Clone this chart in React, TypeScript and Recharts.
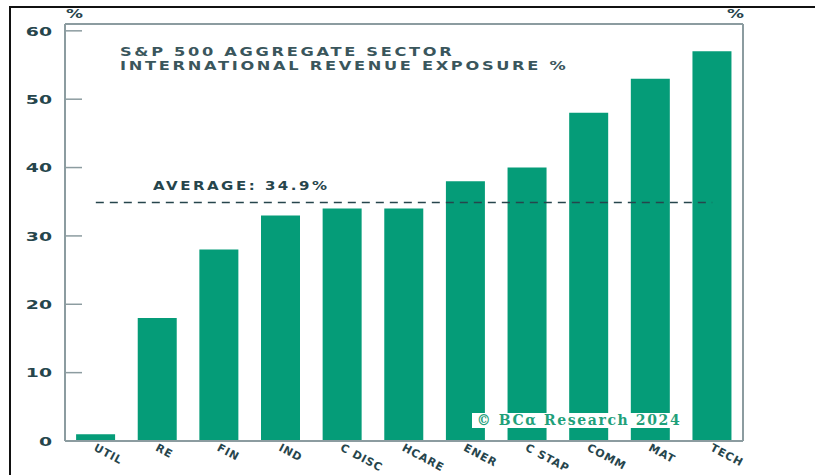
import { BarChart, Bar, XAxis, YAxis, ReferenceLine } from "recharts";

const SECTORS = ["UTIL", "RE", "FIN", "IND", "C DISC", "HCARE", "ENER", "C STAP", "COMM", "MAT", "TECH"];
const EXPOSURE = [1, 18, 28, 33, 34, 34, 38, 40, 48, 53, 57];
const Y_TICKS = [0, 10, 20, 30, 40, 50, 60];
const AVERAGE = 34.9;

const AXIS = "#8c9ca0";
const INK = "#26454c";
const GREEN = "#059c78";
const FONT = "'DejaVu Sans', sans-serif";

const data = SECTORS.map((s, i) => ({ sector: s, value: EXPOSURE[i] }));

function SectorTick({ x, y, payload }: any) {
  const tx = x + 1;
  const ty = y - 6;
  return (
    <text
      x={tx}
      y={ty}
      transform={`rotate(28 ${tx} ${ty})`}
      textAnchor="start"
      dominantBaseline="hanging"
      fill={INK}
      fontSize={11}
      fontWeight={700}
      fontFamily={FONT}
      letterSpacing={0.8}
    >
      {payload.value}
    </text>
  );
}

function ValueTick({ x, y, payload, textAnchor }: any) {
  return (
    <g transform={`translate(${x} ${y}) scale(1.45 1)`}>
      <text
        x={0}
        y={0}
        dy="0.36em"
        textAnchor={textAnchor}
        fill={INK}
        fontSize={13}
        fontWeight={700}
        fontFamily={FONT}
      >
        {payload.value}
      </text>
    </g>
  );
}

const wide = (scale: number): any => ({ transform: `scaleX(${scale})`, transformOrigin: "left top", whiteSpace: "nowrap" });

export default function App() {
  return (
    <div style={{ position: "absolute", left: 0, top: 0, width: 815, height: 475, background: "#fff", fontFamily: FONT, overflow: "hidden" }}>
      <div style={{ position: "absolute", left: 9, top: 6, right: 0, bottom: 0, borderTop: "2px solid #111", borderLeft: "2px solid #111" }} />
      <BarChart
        width={815}
        height={475}
        data={data}
        margin={{ top: 24, right: 0, bottom: 0, left: 0 }}
        barCategoryGap="18%"
      >
        <XAxis
          dataKey="sector"
          height={34}
          axisLine={{ stroke: AXIS, strokeWidth: 2 }}
          tickLine={false}
          tick={<SectorTick />}
          interval={0}
        />
        <YAxis
          yAxisId="left"
          orientation="left"
          width={65}
          domain={[0, 61]}
          ticks={Y_TICKS}
          axisLine={{ stroke: AXIS, strokeWidth: 2 }}
          tickLine={{ stroke: AXIS, strokeWidth: 1.5 }}
          tickSize={-17}
          tickMargin={30}
          tick={<ValueTick />}
        />
        <YAxis
          yAxisId="right"
          orientation="right"
          width={72}
          domain={[0, 61]}
          ticks={Y_TICKS}
          axisLine={{ stroke: AXIS, strokeWidth: 2 }}
          tickLine={{ stroke: AXIS, strokeWidth: 1.5 }}
          tickSize={-17}
          tickMargin={28}
          tick={<ValueTick />}
        />
        <ReferenceLine yAxisId="left" y={61} stroke={AXIS} strokeWidth={2} />
        <Bar yAxisId="left" dataKey="value" fill={GREEN} isAnimationActive={false} />
        <ReferenceLine
          yAxisId="left"
          segment={[
            { x: "UTIL", y: AVERAGE },
            { x: "TECH", y: AVERAGE },
          ]}
          stroke={INK}
          strokeWidth={1.5}
          strokeDasharray="8 6"
        />
      </BarChart>
      <div style={{ position: "absolute", left: 66, top: 6, color: INK, fontSize: 13, fontWeight: 700, ...wide(1.3) }}>%</div>
      <div style={{ position: "absolute", left: 727, top: 6, color: INK, fontSize: 13, fontWeight: 700, ...wide(1.3) }}>%</div>
      <div
        style={{
          position: "absolute",
          left: 120,
          top: 45,
          color: "#3a565c",
          fontSize: 12,
          fontWeight: 700,
          lineHeight: "14px",
          letterSpacing: 2,
          ...wide(1.35),
        }}
      >
        S&amp;P 500 AGGREGATE SECTOR
        <br />
        INTERNATIONAL REVENUE EXPOSURE %
      </div>
      <div
        style={{
          position: "absolute",
          left: 153,
          top: 179,
          color: INK,
          fontSize: 12,
          fontWeight: 700,
          letterSpacing: 2,
          ...wide(1.25),
        }}
      >
        AVERAGE: 34.9%
      </div>
      <div
        style={{
          position: "absolute",
          left: 472,
          top: 413,
          width: 214,
          height: 15,
          background: "#fff",
          color: "#1fa07a",
          fontFamily: "'DejaVu Serif', serif",
          fontWeight: 700,
          fontSize: 14,
          lineHeight: "15px",
          textAlign: "center",
          letterSpacing: 1.6,
          whiteSpace: "nowrap",
        }}
      >
        © BCα Research 2024
      </div>
    </div>
  );
}
